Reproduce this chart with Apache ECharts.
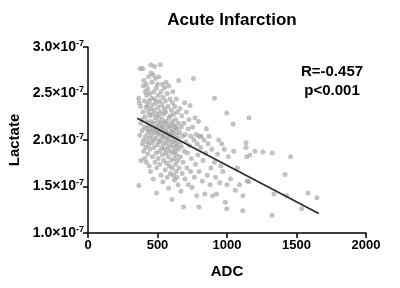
<!DOCTYPE html>
<html>
<head>
<meta charset="utf-8">
<script src="https://cdn.jsdelivr.net/npm/echarts@6/dist/echarts.min.js"></script>
<style>
  html, body { margin: 0; padding: 0; background: #fff; }
  #chart { width: 400px; height: 288px; }
</style>
</head>
<body>
<div id="chart"></div>
<script>
// ADC vs lactate, lactate in units of 1e-7
var points = [
  [365,2.45],[368,2.40],[372,2.05],[375,2.77],[378,2.36],[380,2.18],[382,1.78],[366,1.51],[388,2.22],[390,2.10],[392,1.96],[395,2.77],[396,2.30],[398,2.58],[400,1.88],[400,2.00],
  [402,2.64],[405,2.42],[406,2.14],[408,1.80],[410,2.25],[412,2.52],[414,2.04],[415,1.92],[418,2.35],[420,2.60],[420,1.76],[422,2.48],[424,2.12],[425,2.20],[426,1.98],[428,2.38],[430,2.55],[430,1.85],[432,2.08],[434,2.30],[435,2.68],[436,1.95],[438,2.15],[440,2.42],[440,1.72],[442,2.02],[444,2.26],[445,2.50],[446,1.90],[448,2.10],[450,2.34],[450,1.66],
  [452,2.81],[454,2.72],[455,2.20],[456,2.05],[458,2.45],[460,1.97],[460,2.62],[462,2.28],[464,1.82],[465,2.12],[466,2.38],[468,2.70],[470,2.00],[470,1.58],[472,2.18],[474,2.52],[475,1.92],[476,2.32],[478,2.08],[480,2.79],[480,2.44],[482,1.76],[484,2.24],[485,2.66],[486,2.02],[488,2.14],[490,1.86],[490,2.40],[492,2.56],[494,1.70],[495,2.10],[496,2.28],[498,1.95],[500,2.20],[493,1.43],[500,2.60],
  [502,2.06],[504,2.35],[505,1.80],[506,2.48],[508,2.15],[510,1.98],[510,2.68],[512,2.25],[514,1.88],[515,2.42],[516,2.08],[518,1.74],[520,2.30],[520,2.81],[522,2.00],[524,2.18],[525,1.62],[526,2.52],[528,2.12],[530,1.92],[530,2.38],[532,2.04],[534,2.22],[535,1.84],[536,2.60],[538,1.55],[540,2.14],[540,2.46],[542,1.96],[544,2.28],[545,1.78],[546,2.06],[548,2.34],[550,1.90],[550,2.56],
  [552,2.18],[554,2.02],[555,1.68],[556,2.42],[558,2.10],[560,1.86],[560,2.30],[562,2.62],[564,1.97],[565,2.20],[566,1.75],[568,2.08],[570,2.50],[570,1.60],[572,2.14],[574,1.92],[575,2.36],[576,2.03],[578,1.82],[580,2.24],[580,1.48],[582,2.58],[584,2.00],[585,1.72],[586,2.16],[588,1.88],[590,2.44],[590,2.06],[592,1.64],[594,2.26],[595,1.94],[596,2.12],[598,1.78],[600,2.32],[604,1.36],
  [602,2.08],[604,1.98],[605,2.20],[606,1.70],[608,2.40],[610,1.86],[610,2.52],[612,2.04],[614,1.62],[615,2.16],[616,1.92],[618,2.28],[620,1.80],[620,2.10],[622,1.57],[624,2.00],[625,2.36],[626,1.88],[628,2.14],[630,1.74],[630,2.22],[632,1.96],[634,1.66],[635,2.06],[636,2.44],[638,1.84],[640,2.12],[640,1.60],[642,1.94],[644,2.30],[645,1.78],[646,2.02],[648,1.52],[650,2.18],[650,1.90],
  [652,2.64],[655,1.70],[658,2.08],[660,1.98],[662,2.34],[665,1.82],[668,1.45],[670,2.14],[672,1.93],[675,2.26],[678,1.64],[680,2.04],[758,2.66],[685,1.76],[688,1.28],[690,2.18],[692,1.88],[695,2.40],[698,1.58],[700,2.06],
  [704,1.98],[708,2.30],[712,1.70],[716,1.86],[720,2.12],[722,1.52],[726,2.22],[730,1.94],[734,2.37],[738,1.66],[740,2.04],[744,1.80],[748,1.49],[752,2.14],[762,2.00],[766,1.60],[770,2.24],[774,1.74],[778,2.06],[782,1.40],[786,1.96],[790,1.84],[795,2.20],[798,1.28],[800,2.04],[800,1.66],
  [810,1.92],[815,2.04],[822,1.56],[828,1.78],[835,2.00],[840,1.42],[846,1.86],[852,2.12],[858,1.62],[864,1.96],[870,2.04],[878,1.52],[884,1.70],[890,1.90],[896,1.40],[910,2.45],[910,1.76],[918,1.60],[925,1.42],[932,1.85],[940,2.00],[948,1.54],[955,1.72],[962,1.96],[970,1.66],[980,1.90],[988,1.33],[998,2.29],[998,1.26],[1000,1.52],
  [1010,1.82],[1025,1.58],[1044,2.17],[1048,1.88],[1060,1.46],[1075,1.70],[1090,1.52],[1113,1.24],[1115,1.40],[1137,1.97],[1137,1.92],[1142,1.82],[1144,1.56],[1158,1.55],[1158,2.24],[1165,1.84],[1201,1.88],[1259,1.87],[1324,1.19],[1325,1.86],[1338,1.42],[1417,1.63],[1429,1.40],[1458,1.82],[1537,1.26],[1583,1.43],[1647,1.38]
];
var fitX = [354, 1660];
var fitY = [2.234, 1.209];
var xTicks = [0, 500, 1000, 1500, 2000];
var yTicks = [1.0, 1.5, 2.0, 2.5, 3.0];
var titleText = 'Acute Infarction';
var statLines = ['R=-0.457', 'p<0.001'];

var font = 'Arial, "Liberation Sans", sans-serif';
var chart = echarts.init(document.getElementById('chart'));

var option = {
  animation: false,
  title: {
    text: titleText,
    left: 227,
    top: 7,
    textAlign: 'center',
    textStyle: { fontFamily: font, fontSize: 17, fontWeight: 'bold', color: '#000' }
  },
  grid: { left: 88, right: 34, top: 47, bottom: 55, containLabel: false, outerBoundsMode: 'none' },
  xAxis: {
    type: 'value',
    min: xTicks[0],
    max: xTicks[xTicks.length - 1],
    interval: 500,
    name: 'ADC',
    nameLocation: 'middle',
    nameGap: 31,
    nameTextStyle: { fontFamily: font, fontSize: 15, fontWeight: 'bold', color: '#000' },
    splitLine: { show: false },
    axisLine: { lineStyle: { color: '#000', width: 1.5 } },
    axisTick: { length: 5, lineStyle: { color: '#000', width: 1.5 } },
    axisLabel: {
      margin: 6, fontFamily: font, fontSize: 13, fontWeight: 'bold', color: '#000',
      formatter: function (v) { return String(v); }
    }
  },
  yAxis: {
    type: 'value',
    min: yTicks[0],
    max: yTicks[yTicks.length - 1],
    interval: 0.5,
    name: 'Lactate',
    nameLocation: 'middle',
    nameGap: 66,
    nameTextStyle: { fontFamily: font, fontSize: 15, fontWeight: 'bold', color: '#000' },
    splitLine: { show: false },
    axisLine: { show: true, lineStyle: { color: '#000', width: 1.5 } },
    axisTick: { show: true, length: 5, lineStyle: { color: '#000', width: 1.5 } },
    axisLabel: {
      margin: 4,
      formatter: function (v) {
        return '{m|' + v.toFixed(1) + '×10}{s|-7}';
      },
      rich: {
        m: { fontFamily: font, fontSize: 14, fontWeight: 'bold', color: '#000', lineHeight: 16 },
        s: { fontFamily: font, fontSize: 9, fontWeight: 'bold', color: '#000', verticalAlign: 'top', lineHeight: 16, padding: [0, 0, 7, 0] }
      }
    }
  },
  graphic: [
    {
      type: 'text',
      x: 332,
      y: 62,
      style: {
        text: statLines.join('\n'),
        fontFamily: font,
        fontSize: 15,
        fontWeight: 'bold',
        fill: '#000',
        align: 'center',
        lineHeight: 19
      }
    }
  ],
  series: [
    {
      type: 'scatter',
      data: points,
      symbolSize: 5,
      itemStyle: { color: '#999', opacity: 0.6 },
      silent: true
    },
    {
      type: 'line',
      data: fitX.map(function (x, i) { return [x, fitY[i]]; }),
      symbol: 'none',
      lineStyle: { color: '#2b2b2b', width: 1.6 },
      silent: true
    }
  ]
};
chart.setOption(option);
</script>
</body>
</html>
